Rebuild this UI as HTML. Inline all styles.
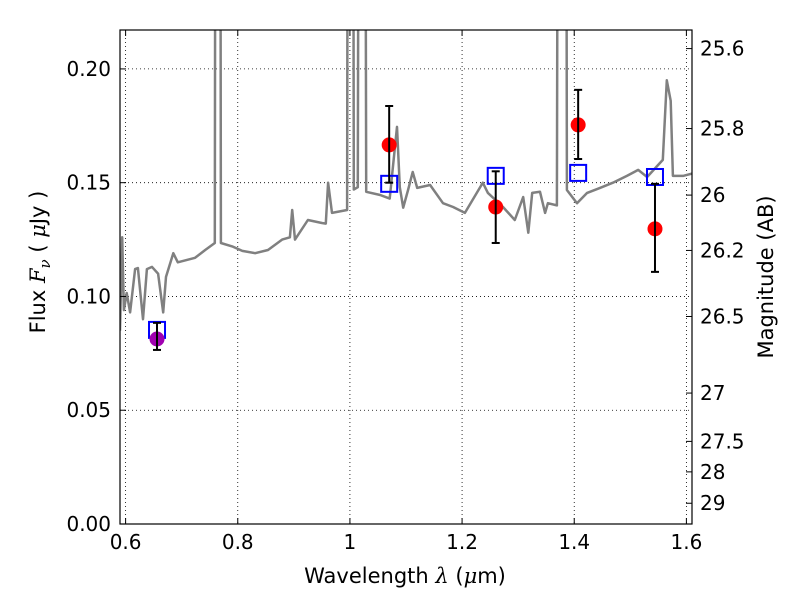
<!DOCTYPE html>
<html><head><meta charset="utf-8"><style>
body{margin:0;background:#fff}
svg text{font-family:"DejaVu Sans","Liberation Sans",sans-serif}
</style></head><body>
<svg id="chart" width="800" height="600">
<defs><clipPath id="clip"><rect x="120" y="30" width="572" height="494"/></clipPath></defs>
<rect x="0" y="0" width="800" height="600" fill="#fff"/>
<g id="grid"></g>
<g id="series" clip-path="url(#clip)"></g>
<g id="points"></g>
<rect x="120" y="30" width="572" height="494" fill="none" stroke="#000" stroke-width="1.2"/>
<g id="axes"></g>
<text x="405" y="583" font-size="21" text-anchor="middle">Wavelength  <tspan font-style="italic" font-family="DejaVu Serif, serif">λ</tspan> (<tspan font-style="italic" font-family="DejaVu Serif, serif">μ</tspan>m)</text>
<text transform="translate(45,262) rotate(-90)" font-size="21" text-anchor="middle">Flux  <tspan font-style="italic" font-family="DejaVu Serif, serif">F<tspan font-size="15" dy="5">ν</tspan></tspan><tspan dy="-5">  (  </tspan><tspan font-style="italic" font-family="DejaVu Serif, serif">μ</tspan>Jy )</text>
<text transform="translate(773,277) rotate(-90)" font-size="21" text-anchor="middle">Magnitude (AB)</text>
</svg>
<script>
const specWave=[0.590,0.594,0.597,0.602,0.608,0.617,0.622,0.631,0.638,0.647,0.658,0.667,0.672,0.685,0.693,0.724,0.742,0.759,0.761,0.768,0.770,0.790,0.808,0.831,0.854,0.879,0.893,0.897,0.902,0.925,0.950,0.957,0.961,0.968,0.995,0.998,1.004,1.007,1.014,1.018,1.025,1.029,1.054,1.071,1.084,1.089,1.095,1.104,1.112,1.120,1.143,1.166,1.184,1.205,1.237,1.246,1.273,1.294,1.309,1.318,1.325,1.339,1.348,1.353,1.369,1.373,1.384,1.387,1.405,1.423,1.446,1.469,1.494,1.514,1.530,1.558,1.565,1.572,1.576,1.594,1.610];
const specFlux=[0.085,0.126,0.094,0.1015,0.093,0.112,0.1125,0.090,0.112,0.113,0.110,0.093,0.1086,0.119,0.115,0.117,0.1204,0.1235,0.5,0.5,0.1235,0.122,0.120,0.119,0.1204,0.125,0.126,0.138,0.125,0.1336,0.1323,0.132,0.150,0.1367,0.138,0.6,0.6,0.147,0.148,0.6,0.6,0.146,0.1446,0.143,0.1745,0.148,0.139,0.147,0.1547,0.1477,0.149,0.141,0.1393,0.1367,0.150,0.1455,0.1393,0.1336,0.1437,0.128,0.1455,0.146,0.1367,0.141,0.140,0.6,0.6,0.1468,0.141,0.1455,0.1477,0.150,0.153,0.1556,0.1525,0.160,0.195,0.186,0.153,0.153,0.154];
const obsWave=[0.656,1.07,1.26,1.407,1.544];
const obsFlux=[0.0813,0.1666,0.1393,0.1754,0.1297];
const obsErrLo=[0.0765,0.150,0.1235,0.1604,0.1108];
const obsErrHi=[0.0884,0.1837,0.155,0.1908,0.1495];
const obsColor=["#a000b0","red","red","red","red"];
const modelFlux=[0.0853,0.1495,0.153,0.1543,0.1525];
const xTicks=[0.6,0.8,1.0,1.2,1.4,1.6];
const xTickLabels=["0.6","0.8","1","1.2","1.4","1.6"];
const yTicks=[0,0.05,0.10,0.15,0.20];
const yTickLabels=["0.00","0.05","0.10","0.15","0.20"];
const magTicks=[25.6,25.8,26,26.2,26.5,27,27.5,28,29];
const magTickLabels=["25.6","25.8","26","26.2","26.5","27","27.5","28","29"];

const X0=120,X1=692,Y0=524,Y1=30,xmin=0.59,xmax=1.61,ymin=0,ymax=0.2171;
const sx=v=>X0+(v-xmin)/(xmax-xmin)*(X1-X0);
const sy=v=>Y0-(v-ymin)/(ymax-ymin)*(Y0-Y1);
const NS="http://www.w3.org/2000/svg";
function mk(tag,attrs,parent){const e=document.createElementNS(NS,tag);for(const k in attrs)e.setAttribute(k,attrs[k]);parent.appendChild(e);return e;}
const grid=document.getElementById('grid'),axes=document.getElementById('axes'),series=document.getElementById('series'),pts=document.getElementById('points');

xTicks.forEach((t,i)=>{const x=sx(t);
 const g=mk('line',{x1:x,x2:x,y1:Y1,y2:Y0,stroke:'#000','stroke-width':0.8,'stroke-dasharray':'1,3'},grid);
 
 mk('line',{x1:x,x2:x,y1:Y0,y2:Y0-6,stroke:'#000'},axes);
 mk('line',{x1:x,x2:x,y1:Y1,y2:Y1+6,stroke:'#000'},axes);
 const tx=mk('text',{x:x,y:Y0+25,'font-size':20,'text-anchor':'middle'},axes);tx.textContent=xTickLabels[i];
 });
yTicks.forEach((t,i)=>{const y=sy(t);
 if(t>0){const g=mk('line',{x1:X0,x2:X1,y1:y,y2:y,stroke:'#000','stroke-width':0.8,'stroke-dasharray':'1,3'},grid);
 }
 mk('line',{x1:X0,x2:X0+6,y1:y,y2:y,stroke:'#000'},axes);
 const tx=mk('text',{x:X0-9,y:y+7,'font-size':20,'text-anchor':'end'},axes);tx.textContent=yTickLabels[i];
 });
magTicks.forEach((m,i)=>{const f=Math.pow(10,(23.9-m)/2.5);const y=sy(f);
 mk('line',{x1:X1,x2:X1-6,y1:y,y2:y,stroke:'#000'},axes);
 const tx=mk('text',{x:X1+8,y:y+7,'font-size':20},axes);tx.textContent=magTickLabels[i];
 });

const d=specWave.map((w,i)=>(i?'L':'M')+sx(w).toFixed(1)+','+sy(specFlux[i]).toFixed(1)).join(' ');
const sp=mk('path',{d:d,fill:'none',stroke:'#808080','stroke-width':2.5,'stroke-linejoin':'round'},series);



obsWave.forEach((w,i)=>{const x=sx(w);
 const sq=mk('rect',{x:x-8,y:sy(modelFlux[i])-8,width:16,height:16,fill:'none',stroke:'#0000ff','stroke-width':2},pts);
 
 const c=mk('circle',{cx:x,cy:sy(obsFlux[i]),r:7.5,fill:obsColor[i]},pts);
 
 const eb=mk('g',{stroke:'#000','stroke-width':2},pts);
 
 mk('line',{x1:x,x2:x,y1:sy(obsErrLo[i]),y2:sy(obsErrHi[i])},eb);
 mk('line',{x1:x-4,x2:x+4,y1:sy(obsErrLo[i]),y2:sy(obsErrLo[i])},eb);
 mk('line',{x1:x-4,x2:x+4,y1:sy(obsErrHi[i]),y2:sy(obsErrHi[i])},eb);
});
</script>
</body></html>
